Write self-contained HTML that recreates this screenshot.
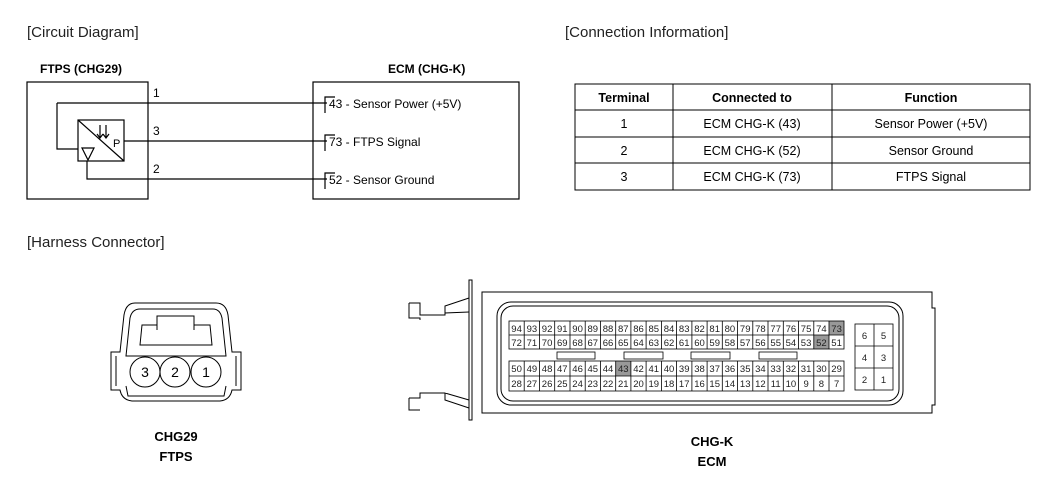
<!DOCTYPE html><html><head><style>body{margin:0;background:#fff}svg{display:block}text{font-family:"Liberation Sans",sans-serif}</style></head><body>
<svg width="1050" height="493" viewBox="0 0 1050 493" xmlns="http://www.w3.org/2000/svg">
<g font-size="15" fill="#222"><text x="27" y="37">[Circuit Diagram]</text><text x="565" y="37">[Connection Information]</text><text x="27" y="247">[Harness Connector]</text></g>
<g font-size="12" font-weight="bold" fill="#000"><text x="40" y="73">FTPS (CHG29)</text><text x="388" y="73">ECM (CHG-K)</text></g>
<g stroke="#000" stroke-width="1.2" fill="none">
<rect x="27" y="82" width="121" height="117"/><rect x="313" y="82" width="206" height="117"/>
<rect x="78" y="120" width="46" height="41"/><line x1="78" y1="120" x2="124" y2="161"/>
<polyline points="57,103 327,103"/><polyline points="57,103 57,149 78,149"/>
<line x1="124" y1="141" x2="327" y2="141"/><polyline points="87,161 87,179 327,179"/>
<polyline points="335,97 325,97 325,113"/><polyline points="335,135 325,135 325,151"/><polyline points="335,173 325,173 325,189"/>
<polygon points="82,148 94,148 88,160"/><line x1="100" y1="125" x2="100" y2="138"/><line x1="106" y1="125" x2="106" y2="138"/>
<polyline points="97,134 100,138 103,134"/><polyline points="103,134 106,138 109,134"/>
</g>
<g font-size="12" fill="#000"><text x="153" y="97">1</text><text x="153" y="135">3</text><text x="153" y="173">2</text><text x="113" y="147" font-size="11">P</text>
<text x="329" y="108">43 - Sensor Power (+5V)</text><text x="329" y="146">73 - FTPS Signal</text><text x="329" y="184">52 - Sensor Ground</text></g>
<g stroke="#000" fill="none" stroke-width="1"><rect x="575" y="84" width="455" height="106"/><line x1="673" y1="84" x2="673" y2="190"/><line x1="832" y1="84" x2="832" y2="190"/>
<line x1="575" y1="110" x2="1030" y2="110"/><line x1="575" y1="137" x2="1030" y2="137"/><line x1="575" y1="163" x2="1030" y2="163"/></g>
<g font-size="12.5" fill="#000" text-anchor="middle"><g font-weight="bold"><text x="624" y="102">Terminal</text><text x="752" y="102">Connected to</text><text x="931" y="102">Function</text></g>
<text x="624" y="128">1</text><text x="752" y="128">ECM CHG-K (43)</text><text x="931" y="128">Sensor Power (+5V)</text>
<text x="624" y="155">2</text><text x="752" y="155">ECM CHG-K (52)</text><text x="931" y="155">Sensor Ground</text>
<text x="624" y="181">3</text><text x="752" y="181">ECM CHG-K (73)</text><text x="931" y="181">FTPS Signal</text></g>
<g stroke="#000" fill="none" stroke-width="1">
<path d="M135,303 H216 Q226,303 228,315 L232,352 H241 V390 H232 Q230,400 220,401 H132 Q122,400 120,390 H111 V352 H120 L124,315 Q126,303 135,303Z"/>
<path d="M140,309 H213 Q220,309 222,318 L226,356 H126 L130,318 Q132,309 140,309Z"/>
<path d="M157,330 V316 H194 V330 M157,325 H142 L140,345 H212 L210,325 H194"/>
<path d="M116,356 V386 M236,356 V386"/><path d="M126,386 L128,396 H224 L226,386"/>
<circle cx="145" cy="372" r="15"/><circle cx="175" cy="372" r="15"/><circle cx="206" cy="372" r="15"/>
</g>
<g font-size="14" text-anchor="middle" fill="#000"><text x="145" y="377">3</text><text x="175" y="377">2</text><text x="206" y="377">1</text></g>
<g font-size="13" font-weight="bold" text-anchor="middle" fill="#000"><text x="176" y="441">CHG29</text><text x="176" y="461">FTPS</text><text x="712" y="446">CHG-K</text><text x="712" y="466">ECM</text></g>
<g stroke="#000" fill="none" stroke-width="1">
<rect x="469" y="280" width="3" height="140"/>
<path d="M409,303 H420 V315 H445 V306 L469,298 M445,315 V313 L469,312 M409,303 V318 H420 V320 M409,398 H420 V393 H445 V400 L469,408 M445,393 L469,400 M409,398 V410 H420"/>
<path d="M482,292 H932 V308 H935 V405 H932 V413 H482 Z"/>
<rect x="497" y="302" width="406" height="103" rx="14"/><rect x="501" y="306" width="398" height="95" rx="12"/>
</g>
<g fill="#999"><rect x="829" y="321" width="15" height="14"/><rect x="814" y="335" width="15" height="14"/><rect x="615.7" y="361" width="15.2" height="15"/></g>
<g stroke="#000" fill="none" stroke-width="0.8">
<rect x="509" y="321" width="335" height="28"/><line x1="509" y1="335" x2="844" y2="335"/>
<rect x="509" y="361" width="335" height="30"/><line x1="509" y1="376" x2="844" y2="376"/>
<path d="M524.2,321V349M539.5,321V349M554.7,321V349M570,321V349M585.2,321V349M600.4,321V349M615.7,321V349M630.9,321V349M646.1,321V349M661.4,321V349M676.6,321V349M691.9,321V349M707.1,321V349M722.3,321V349M737.6,321V349M752.8,321V349M768,321V349M783.3,321V349M798.5,321V349M813.8,321V349M829,321V349"/>
<path d="M524.2,361V391M539.5,361V391M554.7,361V391M570,361V391M585.2,361V391M600.4,361V391M615.7,361V391M630.9,361V391M646.1,361V391M661.4,361V391M676.6,361V391M691.9,361V391M707.1,361V391M722.3,361V391M737.6,361V391M752.8,361V391M768,361V391M783.3,361V391M798.5,361V391M813.8,361V391M829,361V391"/>
<rect x="557" y="352" width="38" height="7"/><rect x="624" y="352" width="39" height="7"/><rect x="691" y="352" width="39" height="7"/><rect x="759" y="352" width="38" height="7"/>
<rect x="855" y="324" width="38" height="66"/><line x1="874" y1="324" x2="874" y2="390"/><line x1="855" y1="346" x2="893" y2="346"/><line x1="855" y1="368" x2="893" y2="368"/>
</g>
<g font-size="9.5" fill="#222" text-anchor="middle">
<text y="332"><tspan x="516.6">94</tspan><tspan x="531.9">93</tspan><tspan x="547.1">92</tspan><tspan x="562.3">91</tspan><tspan x="577.6">90</tspan><tspan x="592.8">89</tspan><tspan x="608">88</tspan><tspan x="623.3">87</tspan><tspan x="638.5">86</tspan><tspan x="653.8">85</tspan><tspan x="669">84</tspan><tspan x="684.2">83</tspan><tspan x="699.5">82</tspan><tspan x="714.7">81</tspan><tspan x="729.9">80</tspan><tspan x="745.2">79</tspan><tspan x="760.4">78</tspan><tspan x="775.7">77</tspan><tspan x="790.9">76</tspan><tspan x="806.1">75</tspan><tspan x="821.4">74</tspan><tspan x="836.6">73</tspan></text>
<text y="346"><tspan x="516.6">72</tspan><tspan x="531.9">71</tspan><tspan x="547.1">70</tspan><tspan x="562.3">69</tspan><tspan x="577.6">68</tspan><tspan x="592.8">67</tspan><tspan x="608">66</tspan><tspan x="623.3">65</tspan><tspan x="638.5">64</tspan><tspan x="653.8">63</tspan><tspan x="669">62</tspan><tspan x="684.2">61</tspan><tspan x="699.5">60</tspan><tspan x="714.7">59</tspan><tspan x="729.9">58</tspan><tspan x="745.2">57</tspan><tspan x="760.4">56</tspan><tspan x="775.7">55</tspan><tspan x="790.9">54</tspan><tspan x="806.1">53</tspan><tspan x="821.4">52</tspan><tspan x="836.6">51</tspan></text>
<text y="372"><tspan x="516.6">50</tspan><tspan x="531.9">49</tspan><tspan x="547.1">48</tspan><tspan x="562.3">47</tspan><tspan x="577.6">46</tspan><tspan x="592.8">45</tspan><tspan x="608">44</tspan><tspan x="623.3">43</tspan><tspan x="638.5">42</tspan><tspan x="653.8">41</tspan><tspan x="669">40</tspan><tspan x="684.2">39</tspan><tspan x="699.5">38</tspan><tspan x="714.7">37</tspan><tspan x="729.9">36</tspan><tspan x="745.2">35</tspan><tspan x="760.4">34</tspan><tspan x="775.7">33</tspan><tspan x="790.9">32</tspan><tspan x="806.1">31</tspan><tspan x="821.4">30</tspan><tspan x="836.6">29</tspan></text>
<text y="387"><tspan x="516.6">28</tspan><tspan x="531.9">27</tspan><tspan x="547.1">26</tspan><tspan x="562.3">25</tspan><tspan x="577.6">24</tspan><tspan x="592.8">23</tspan><tspan x="608">22</tspan><tspan x="623.3">21</tspan><tspan x="638.5">20</tspan><tspan x="653.8">19</tspan><tspan x="669">18</tspan><tspan x="684.2">17</tspan><tspan x="699.5">16</tspan><tspan x="714.7">15</tspan><tspan x="729.9">14</tspan><tspan x="745.2">13</tspan><tspan x="760.4">12</tspan><tspan x="775.7">11</tspan><tspan x="790.9">10</tspan><tspan x="806.1">9</tspan><tspan x="821.4">8</tspan><tspan x="836.6">7</tspan></text>
<text y="339"><tspan x="864.5">6</tspan><tspan x="883.5">5</tspan></text><text y="361"><tspan x="864.5">4</tspan><tspan x="883.5">3</tspan></text><text y="383"><tspan x="864.5">2</tspan><tspan x="883.5">1</tspan></text>
</g>
</svg></body></html>
